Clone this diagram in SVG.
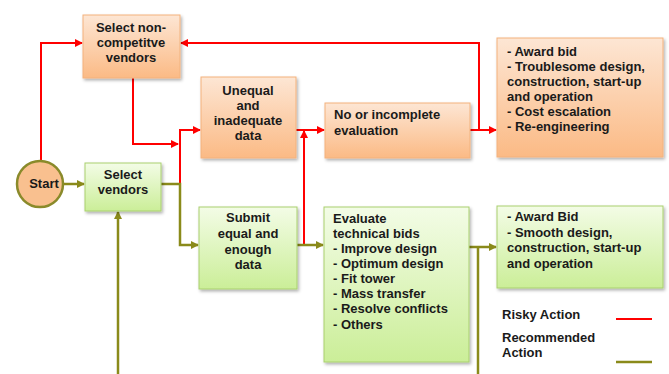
<svg xmlns="http://www.w3.org/2000/svg" width="669" height="374" viewBox="0 0 669 374">
<defs>
<linearGradient id="gOr" x1="0" y1="0" x2="0" y2="1"><stop offset="0" stop-color="#fde6d4"/><stop offset="1" stop-color="#fbba85"/></linearGradient>
<linearGradient id="gGr" x1="0" y1="0" x2="0" y2="1"><stop offset="0" stop-color="#f3fce6"/><stop offset="1" stop-color="#cbee98"/></linearGradient>
<filter id="sh" x="-10%" y="-10%" width="125%" height="125%"><feDropShadow dx="1.5" dy="2" stdDeviation="1.5" flood-color="#000" flood-opacity="0.3"/></filter>
<marker id="aR" markerWidth="8" markerHeight="8" refX="7" refY="4" orient="auto" markerUnits="userSpaceOnUse"><path d="M0,0 L8,4 L0,8 z" fill="#ff0000"/></marker>
<marker id="aG" markerWidth="8" markerHeight="8" refX="7" refY="4" orient="auto" markerUnits="userSpaceOnUse"><path d="M0,0 L8,4 L0,8 z" fill="#8a8a1a"/></marker>
</defs>
<style>
.or{fill:url(#gOr);stroke:#f3b27c;stroke-width:1;filter:url(#sh)}
.gr{fill:url(#gGr);stroke:#a9d06e;stroke-width:1;filter:url(#sh)}
text{font-family:"Liberation Sans",Arial,sans-serif;font-weight:bold;font-size:13px;fill:#1a1a1a}
.c{text-anchor:middle}
.r{fill:none;stroke:#ff0000;stroke-width:2}
.o{fill:none;stroke:#8a8a1a;stroke-width:2.5}
</style>
<rect width="669" height="374" fill="#fff"/>
<g id="connectors">
<path class="r" d="M41,160 V43 H82" marker-end="url(#aR)"/>
<path class="r" d="M133,78 V144 H178" marker-end="url(#aR)"/>
<path class="r" d="M180,184 V130 H200" marker-end="url(#aR)"/>
<path class="r" d="M296,130 H324" marker-end="url(#aR)"/>
<path class="r" d="M304,245 V131" marker-end="url(#aR)"/>
<path class="r" d="M470,130 H496" marker-end="url(#aR)"/>
<path class="r" d="M479,130 V43 H181" marker-end="url(#aR)"/>
<path class="o" d="M64,184 H84" marker-end="url(#aG)"/>
<path class="o" d="M161,184 H180 V245 H198" marker-end="url(#aG)"/>
<path class="o" d="M297,245 H323" marker-end="url(#aG)"/>
<path class="o" d="M469,247 H496" marker-end="url(#aG)"/>
<path class="o" d="M478,247 V374"/>
<path class="o" d="M118,374 V212" marker-end="url(#aG)"/>
</g>
<g id="start">
<circle cx="40" cy="184" r="23" fill="#f9c08f" stroke="#8a8a2a" stroke-width="2.5"/>
<text class="c" x="44" y="188">Start</text>
</g>
<g id="select-noncompetitive">
<rect class="or" x="83" y="15" width="97" height="63"/>
<text class="c" x="131" y="32">Select non-</text>
<text class="c" x="131" y="47">competitve</text>
<text class="c" x="131" y="62">vendors</text>
</g>
<g id="select-vendors">
<rect class="gr" x="85" y="163" width="76" height="48"/>
<text class="c" x="123" y="179">Select</text>
<text class="c" x="123" y="194">vendors</text>
</g>
<g id="unequal">
<rect class="or" x="201" y="77" width="95" height="81"/>
<text class="c" x="248" y="95">Unequal</text>
<text class="c" x="248" y="110">and</text>
<text class="c" x="248" y="125">inadequate</text>
<text class="c" x="248" y="140">data</text>
</g>
<g id="no-evaluation">
<rect class="or" x="325" y="103" width="145" height="55"/>
<text x="334" y="119">No or  incomplete</text>
<text x="334" y="135">evaluation</text>
</g>
<g id="risky-outcome">
<rect class="or" x="497" y="38" width="166" height="119"/>
<text x="507" y="56">- Award bid</text>
<text x="507" y="71">- Troublesome design,</text>
<text x="507" y="86">construction, start-up</text>
<text x="507" y="101">and operation</text>
<text x="507" y="116">- Cost escalation</text>
<text x="507" y="131">- Re-engineering</text>
</g>
<g id="submit">
<rect class="gr" x="199" y="207" width="98" height="82"/>
<text class="c" x="248" y="222">Submit</text>
<text class="c" x="248" y="238">equal and</text>
<text class="c" x="248" y="254">enough</text>
<text class="c" x="248" y="269">data</text>
</g>
<g id="evaluate">
<rect class="gr" x="324" y="207" width="145" height="155"/>
<text x="333" y="223">Evaluate</text>
<text x="333" y="238">technical bids</text>
<text x="333" y="253">- Improve design</text>
<text x="333" y="268">- Optimum design</text>
<text x="333" y="283">- Fit tower</text>
<text x="333" y="298">- Mass transfer</text>
<text x="333" y="313">- Resolve conflicts</text>
<text x="333" y="329">- Others</text>
</g>
<g id="recommended-outcome">
<rect class="gr" x="497" y="206" width="166" height="82"/>
<text x="507" y="221">- Award Bid</text>
<text x="507" y="237">- Smooth design,</text>
<text x="507" y="252">construction, start-up</text>
<text x="507" y="268">and operation</text>
</g>
<g id="legend">
<text x="502" y="319">Risky Action</text>
<line x1="616" y1="319" x2="652" y2="319" stroke="#ff0000" stroke-width="2"/>
<text x="502" y="342">Recommended</text>
<text x="502" y="357">Action</text>
<line x1="616" y1="362" x2="652" y2="362" stroke="#8a8a1a" stroke-width="2.5"/>
</g>
</svg>
